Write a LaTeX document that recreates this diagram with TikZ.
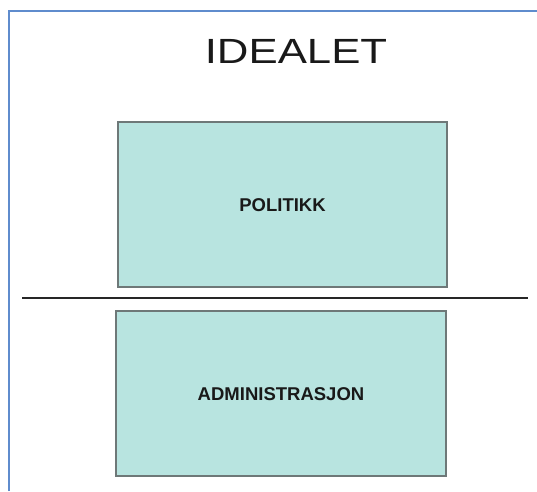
\documentclass[tikz,border=0pt]{standalone}
\usepackage{fontspec}
\setmainfont{Liberation Sans}
\definecolor{boxfill}{RGB}{184,228,224}
\definecolor{boxedge}{RGB}{110,120,120}
\definecolor{frameblue}{RGB}{95,140,205}
\tikzset{
  panel/.style={draw=boxedge, line width=1.2pt, fill=boxfill},
  lbl/.style={font=\fontsize{18.5}{22}\selectfont\bfseries, text=black!90},
}
\begin{document}
\begin{tikzpicture}[x=1pt,y=1pt]
\useasboundingbox (0,0) rectangle (537,-491);
% frame (left and top edges of the page)
\draw[frameblue, line width=2.5pt] (9,-491) -- (9,-11) -- (537,-11);
% title
\node[font=\fontsize{35}{40}\selectfont, xscale=1.25, text=black!90] (title) at (296,-51) {IDEALET};
% boxes
\path[panel] (118,-122) rectangle (447,-287);
\coordinate (pc) at (282.5,-205);
\node[lbl] (pol) at (pc) {POLITIKK};
\path[panel] (116,-311) rectangle (446,-476);
\coordinate (ac) at (281,-394);
\node[lbl] (adm) at (ac) {ADMINISTRASJON};
% dividing line
\coordinate (l1) at (22,-298);
\coordinate (l2) at (528,-298);
\draw[black!85, line width=2.5pt] (l1) -- (l2);
\end{tikzpicture}
\end{document}
